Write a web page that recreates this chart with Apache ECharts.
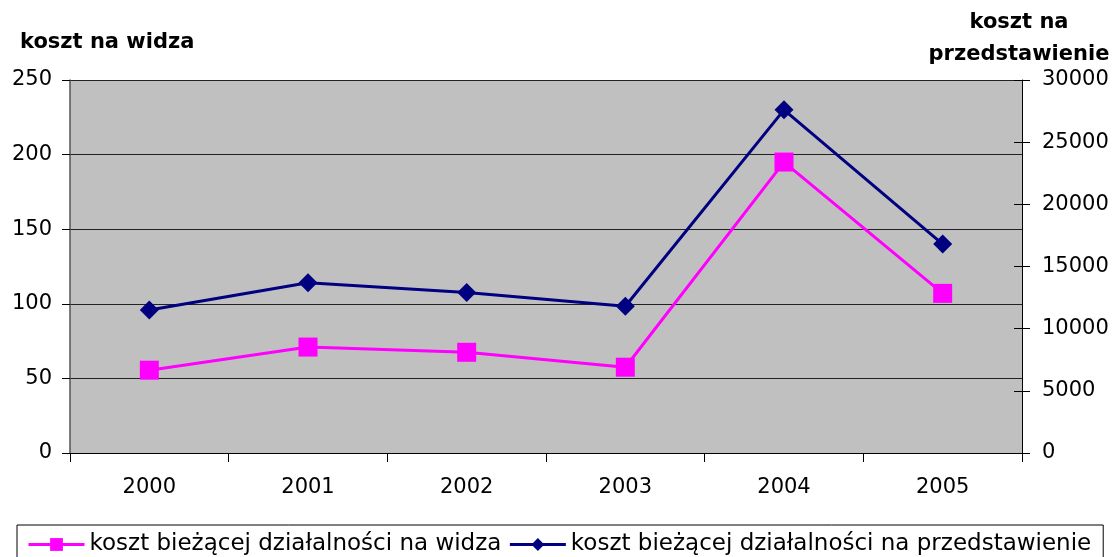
<!DOCTYPE html>
<html>
<head>
<meta charset="utf-8">
<script src="https://cdn.jsdelivr.net/npm/echarts@6/dist/echarts.min.js"></script>
<style>
  html, body { margin: 0; padding: 0; background: #fff; }
  #chart { width: 1114px; height: 557px; }
</style>
</head>
<body>
<div id="chart"></div>
<script>
// lata
const years = ["2000", "2001", "2002", "2003", "2004", "2005"];
// koszt na widza (lewa oś)
const perViewer = [55.5, 71, 67.5, 57.5, 195, 107];
// koszt na przedstawienie (prawa oś)
const perShow = [11500, 13700, 12900, 11800, 27600, 16800];

const leftTicks = { min: 0, max: 250, interval: 50 };
const rightTicks = { min: 0, max: 30000, interval: 5000 };

const font = "DejaVu Sans, Liberation Sans, sans-serif";

const myChart = echarts.init(document.getElementById("chart"));

const option = {
  animation: false,
  backgroundColor: "#fff",
  title: [
    {
      text: "koszt na widza",
      left: 15,
      top: 27,
      textStyle: { fontFamily: font, fontSize: 21, fontWeight: "bold", color: "#000" }
    },
    {
      text: "koszt na\nprzedstawienie",
      left: 1014,
      top: 2,
      textAlign: "center",
      textStyle: { fontFamily: font, fontSize: 21, fontWeight: "bold", color: "#000", lineHeight: 32, align: "center" }
    }
  ],
  grid: {
    left: 70,
    right: 92,
    top: 80,
    bottom: 104,
    show: true,
    backgroundColor: "#c0c0c0",
    borderWidth: 0
  },
  legend: {
    top: 525,
    left: 17,
    padding: [8, 12, 14, 10],
    borderColor: "#000",
    borderWidth: 1,
    borderRadius: 0,
    itemGap: 7,
    itemWidth: 56,
    itemHeight: 16,
    lineStyle: { width: 3 },
    textStyle: { fontFamily: font, fontSize: 23, color: "#000" },
    data: ["koszt bieżącej działalności na widza", "koszt bieżącej działalności na przedstawienie"]
  },
  xAxis: {
    type: "category",
    data: years,
    boundaryGap: true,
    axisLine: { lineStyle: { color: "#000", width: 1 } },
    axisTick: { show: true, length: 9, lineStyle: { color: "#000" } },
    axisLabel: { fontFamily: font, fontSize: 21, color: "#000", margin: 24 }
  },
  yAxis: [
    {
      type: "value",
      position: "left",
      min: leftTicks.min,
      max: leftTicks.max,
      interval: leftTicks.interval,
      axisLine: { show: true, lineStyle: { color: "#555", width: 1.5 } },
      axisTick: { show: true, length: 8, lineStyle: { color: "#000" } },
      axisLabel: { fontFamily: font, fontSize: 21, color: "#000", margin: 18 },
      splitLine: { show: true, lineStyle: { color: "#222", width: 1 } }
    },
    {
      type: "value",
      position: "right",
      min: rightTicks.min,
      max: rightTicks.max,
      interval: rightTicks.interval,
      axisLine: { show: true, lineStyle: { color: "#000", width: 1 } },
      axisTick: { show: true, length: 8, lineStyle: { color: "#000" } },
      axisLabel: { fontFamily: font, fontSize: 21, color: "#000", margin: 20, formatter: v => String(v) },
      splitLine: { show: false }
    },
    {
      // wewnętrzna połowa znaczników prawej osi (znaczniki przecinają oś)
      type: "value",
      position: "right",
      min: rightTicks.min,
      max: rightTicks.max,
      interval: rightTicks.interval,
      axisLine: { show: false },
      axisTick: { show: true, inside: true, length: 8, lineStyle: { color: "#000" } },
      axisLabel: { show: false },
      splitLine: { show: false }
    }
  ],
  series: [
    {
      name: "koszt bieżącej działalności na widza",
      type: "line",
      yAxisIndex: 0,
      data: perViewer,
      symbol: "rect",
      symbolSize: 19,
      lineStyle: { color: "#ff00ff", width: 3 },
      itemStyle: { color: "#ff00ff" }
    },
    {
      name: "koszt bieżącej działalności na przedstawienie",
      type: "line",
      yAxisIndex: 1,
      data: perShow,
      symbol: "diamond",
      symbolSize: 19,
      lineStyle: { color: "#000080", width: 3 },
      itemStyle: { color: "#000080" }
    }
  ]
};

myChart.setOption(option);
</script>
</body>
</html>
